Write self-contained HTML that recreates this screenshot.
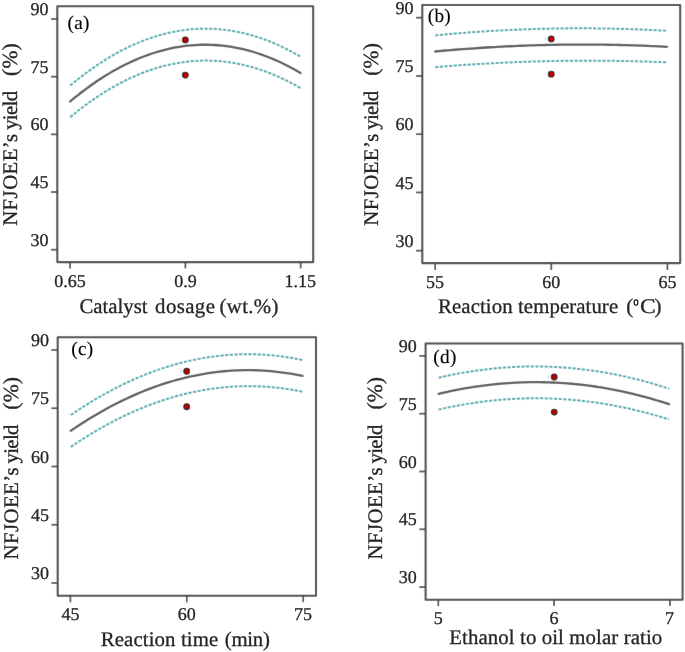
<!DOCTYPE html>
<html><head><meta charset="utf-8"><style>
html,body{margin:0;padding:0;background:#fff;}
svg{display:block;}
text{font-family:"Liberation Serif", serif;text-rendering:geometricPrecision;fill:#262626;stroke:#262626;stroke-width:0.3px;}
text.pl{fill:#000;stroke:#000;stroke-width:0.12px;}
</style></head><body>
<svg width="685" height="652" viewBox="0 0 685 652">
<defs><filter id="bl" x="0" y="0" width="100%" height="100%" filterUnits="userSpaceOnUse"><feConvolveMatrix order="3" kernelMatrix="0.0052 0.0619 0.0052 0.0619 0.7314 0.0619 0.0052 0.0619 0.0052" preserveAlpha="false" edgeMode="duplicate"/></filter><filter id="nf" x="0" y="0" width="100%" height="100%" filterUnits="userSpaceOnUse"><feOffset dx="0" dy="0"/></filter></defs>
<rect width="685" height="652" fill="#fff"/>
<g filter="url(#bl)">
<rect width="685" height="652" fill="#fff"/>
<path d="M57.3 6.2 H313.2 V262.1 H57.3 Z" fill="none" stroke="#484848" stroke-width="2.05" stroke-linejoin="round"/>
<line x1="51.00" y1="19.00" x2="57.3" y2="19.00" stroke="#484848" stroke-width="1.7"/>
<line x1="51.00" y1="76.67" x2="57.3" y2="76.67" stroke="#484848" stroke-width="1.7"/>
<line x1="51.00" y1="134.35" x2="57.3" y2="134.35" stroke="#484848" stroke-width="1.7"/>
<line x1="51.00" y1="192.02" x2="57.3" y2="192.02" stroke="#484848" stroke-width="1.7"/>
<line x1="51.00" y1="249.70" x2="57.3" y2="249.70" stroke="#484848" stroke-width="1.7"/>
<line x1="70.1" y1="262.1" x2="70.1" y2="268.40" stroke="#484848" stroke-width="1.7"/>
<line x1="185.4" y1="262.1" x2="185.4" y2="268.40" stroke="#484848" stroke-width="1.7"/>
<line x1="300.7" y1="262.1" x2="300.7" y2="268.40" stroke="#484848" stroke-width="1.7"/>
<path d="M70.20 85.54 L74.10 82.31 L78.01 79.17 L81.91 76.12 L85.81 73.17 L89.72 70.32 L93.62 67.56 L97.52 64.89 L101.43 62.32 L105.33 59.84 L109.23 57.46 L113.14 55.17 L117.04 52.98 L120.94 50.88 L124.85 48.88 L128.75 46.97 L132.65 45.16 L136.56 43.44 L140.46 41.81 L144.36 40.28 L148.27 38.85 L152.17 37.51 L156.07 36.26 L159.98 35.11 L163.88 34.05 L167.78 33.09 L171.69 32.22 L175.59 31.45 L179.49 30.77 L183.40 30.19 L187.30 29.70 L191.21 29.30 L195.11 29.00 L199.01 28.80 L202.92 28.69 L206.82 28.67 L210.72 28.75 L214.63 28.93 L218.53 29.20 L222.43 29.56 L226.34 30.02 L230.24 30.57 L234.14 31.22 L238.05 31.96 L241.95 32.80 L245.85 33.73 L249.76 34.75 L253.66 35.88 L257.56 37.09 L261.47 38.40 L265.37 39.81 L269.27 41.30 L273.18 42.90 L277.08 44.59 L280.98 46.37 L284.89 48.25 L288.79 50.22 L292.69 52.29 L296.60 54.45 L300.50 56.71" fill="none" stroke="#52abad" stroke-width="2.0" stroke-dasharray="3.2 1.45"/>
<path d="M70.20 117.15 L74.10 113.94 L78.01 110.83 L81.91 107.81 L85.81 104.88 L89.72 102.05 L93.62 99.31 L97.52 96.66 L101.43 94.11 L105.33 91.65 L109.23 89.29 L113.14 87.02 L117.04 84.84 L120.94 82.75 L124.85 80.76 L128.75 78.87 L132.65 77.06 L136.56 75.35 L140.46 73.74 L144.36 72.22 L148.27 70.79 L152.17 69.45 L156.07 68.21 L159.98 67.06 L163.88 66.01 L167.78 65.05 L171.69 64.18 L175.59 63.41 L179.49 62.73 L183.40 62.14 L187.30 61.65 L191.21 61.25 L195.11 60.95 L199.01 60.74 L202.92 60.62 L206.82 60.59 L210.72 60.66 L214.63 60.83 L218.53 61.08 L222.43 61.43 L226.34 61.88 L230.24 62.42 L234.14 63.05 L238.05 63.77 L241.95 64.59 L245.85 65.50 L249.76 66.51 L253.66 67.61 L257.56 68.80 L261.47 70.09 L265.37 71.47 L269.27 72.94 L273.18 74.51 L277.08 76.17 L280.98 77.93 L284.89 79.78 L288.79 81.72 L292.69 83.75 L296.60 85.88 L300.50 88.11" fill="none" stroke="#52abad" stroke-width="2.0" stroke-dasharray="3.2 1.45"/>
<path d="M70.20 101.42 L74.10 98.19 L78.01 95.05 L81.91 92.01 L85.81 89.07 L89.72 86.21 L93.62 83.46 L97.52 80.80 L101.43 78.23 L105.33 75.76 L109.23 73.38 L113.14 71.10 L117.04 68.91 L120.94 66.81 L124.85 64.82 L128.75 62.91 L132.65 61.10 L136.56 59.39 L140.46 57.77 L144.36 56.24 L148.27 54.81 L152.17 53.48 L156.07 52.24 L159.98 51.09 L163.88 50.04 L167.78 49.08 L171.69 48.22 L175.59 47.46 L179.49 46.78 L183.40 46.21 L187.30 45.72 L191.21 45.34 L195.11 45.04 L199.01 44.84 L202.92 44.74 L206.82 44.73 L210.72 44.82 L214.63 45.00 L218.53 45.27 L222.43 45.64 L226.34 46.11 L230.24 46.67 L234.14 47.32 L238.05 48.07 L241.95 48.92 L245.85 49.85 L249.76 50.89 L253.66 52.02 L257.56 53.24 L261.47 54.56 L265.37 55.97 L269.27 57.48 L273.18 59.08 L277.08 60.77 L280.98 62.57 L284.89 64.45 L288.79 66.43 L292.69 68.51 L296.60 70.68 L300.50 72.94" fill="none" stroke="#5c5c5c" stroke-width="2.3" stroke-linecap="round"/>
<circle cx="185.3" cy="39.9" r="2.8" fill="#c80000" stroke="#300000" stroke-width="1.25"/>
<circle cx="185.3" cy="75.1" r="2.8" fill="#c80000" stroke="#300000" stroke-width="1.25"/>
<rect x="179.00" y="38.30" width="0.9" height="3.2" fill="#c4c4c4"/>
<path d="M422.3 5.0 H680.2 V263.1 H422.3 Z" fill="none" stroke="#484848" stroke-width="2.05" stroke-linejoin="round"/>
<line x1="416.00" y1="17.70" x2="422.3" y2="17.70" stroke="#484848" stroke-width="1.7"/>
<line x1="416.00" y1="75.95" x2="422.3" y2="75.95" stroke="#484848" stroke-width="1.7"/>
<line x1="416.00" y1="134.20" x2="422.3" y2="134.20" stroke="#484848" stroke-width="1.7"/>
<line x1="416.00" y1="192.45" x2="422.3" y2="192.45" stroke="#484848" stroke-width="1.7"/>
<line x1="416.00" y1="250.70" x2="422.3" y2="250.70" stroke="#484848" stroke-width="1.7"/>
<line x1="435.2" y1="263.1" x2="435.2" y2="270.10" stroke="#484848" stroke-width="1.7"/>
<line x1="551.3" y1="263.1" x2="551.3" y2="270.10" stroke="#484848" stroke-width="1.7"/>
<line x1="667.4" y1="263.1" x2="667.4" y2="270.10" stroke="#484848" stroke-width="1.7"/>
<path d="M435.20 35.39 L439.13 35.01 L443.06 34.64 L446.99 34.29 L450.92 33.94 L454.85 33.60 L458.78 33.28 L462.71 32.96 L466.64 32.66 L470.57 32.36 L474.51 32.08 L478.44 31.81 L482.37 31.54 L486.30 31.29 L490.23 31.05 L494.16 30.81 L498.09 30.59 L502.02 30.38 L505.95 30.18 L509.88 29.99 L513.81 29.81 L517.74 29.64 L521.67 29.48 L525.60 29.33 L529.53 29.19 L533.46 29.06 L537.39 28.94 L541.32 28.83 L545.25 28.73 L549.18 28.64 L553.12 28.57 L557.05 28.50 L560.98 28.44 L564.91 28.40 L568.84 28.36 L572.77 28.34 L576.70 28.32 L580.63 28.32 L584.56 28.32 L588.49 28.34 L592.42 28.36 L596.35 28.40 L600.28 28.45 L604.21 28.50 L608.14 28.57 L612.07 28.65 L616.00 28.74 L619.93 28.84 L623.86 28.94 L627.79 29.06 L631.73 29.19 L635.66 29.33 L639.59 29.48 L643.52 29.64 L647.45 29.82 L651.38 30.00 L655.31 30.19 L659.24 30.39 L663.17 30.60 L667.10 30.83" fill="none" stroke="#52abad" stroke-width="2.0" stroke-dasharray="3.2 1.45"/>
<path d="M435.20 67.14 L439.13 66.82 L443.06 66.50 L446.99 66.19 L450.92 65.89 L454.85 65.59 L458.78 65.31 L462.71 65.03 L466.64 64.77 L470.57 64.51 L474.51 64.26 L478.44 64.01 L482.37 63.78 L486.30 63.56 L490.23 63.34 L494.16 63.13 L498.09 62.93 L502.02 62.74 L505.95 62.56 L509.88 62.38 L513.81 62.22 L517.74 62.06 L521.67 61.91 L525.60 61.77 L529.53 61.64 L533.46 61.51 L537.39 61.40 L541.32 61.29 L545.25 61.20 L549.18 61.11 L553.12 61.02 L557.05 60.95 L560.98 60.89 L564.91 60.83 L568.84 60.78 L572.77 60.75 L576.70 60.71 L580.63 60.69 L584.56 60.68 L588.49 60.67 L592.42 60.68 L596.35 60.69 L600.28 60.71 L604.21 60.74 L608.14 60.78 L612.07 60.82 L616.00 60.88 L619.93 60.94 L623.86 61.01 L627.79 61.09 L631.73 61.18 L635.66 61.27 L639.59 61.38 L643.52 61.49 L647.45 61.61 L651.38 61.75 L655.31 61.88 L659.24 62.03 L663.17 62.19 L667.10 62.35" fill="none" stroke="#52abad" stroke-width="2.0" stroke-dasharray="3.2 1.45"/>
<path d="M435.20 51.48 L439.13 51.12 L443.06 50.76 L446.99 50.42 L450.92 50.08 L454.85 49.76 L458.78 49.44 L462.71 49.14 L466.64 48.84 L470.57 48.55 L474.51 48.28 L478.44 48.01 L482.37 47.76 L486.30 47.51 L490.23 47.27 L494.16 47.05 L498.09 46.83 L502.02 46.62 L505.95 46.42 L509.88 46.24 L513.81 46.06 L517.74 45.89 L521.67 45.73 L525.60 45.58 L529.53 45.45 L533.46 45.32 L537.39 45.20 L541.32 45.09 L545.25 44.99 L549.18 44.90 L553.12 44.82 L557.05 44.75 L560.98 44.69 L564.91 44.64 L568.84 44.60 L572.77 44.57 L576.70 44.55 L580.63 44.54 L584.56 44.54 L588.49 44.55 L592.42 44.57 L596.35 44.60 L600.28 44.64 L604.21 44.69 L608.14 44.75 L612.07 44.81 L616.00 44.89 L619.93 44.98 L623.86 45.08 L627.79 45.19 L631.73 45.30 L635.66 45.43 L639.59 45.57 L643.52 45.71 L647.45 45.87 L651.38 46.04 L655.31 46.22 L659.24 46.40 L663.17 46.60 L667.10 46.80" fill="none" stroke="#5c5c5c" stroke-width="2.3" stroke-linecap="round"/>
<circle cx="551.2" cy="38.9" r="2.8" fill="#c80000" stroke="#300000" stroke-width="1.25"/>
<circle cx="551.2" cy="74.2" r="2.8" fill="#c80000" stroke="#300000" stroke-width="1.25"/>
<rect x="544.90" y="37.30" width="0.9" height="3.2" fill="#c4c4c4"/>
<path d="M57.7 337.3 H316.0 V595.7 H57.7 Z" fill="none" stroke="#484848" stroke-width="2.05" stroke-linejoin="round"/>
<line x1="51.40" y1="350.00" x2="57.7" y2="350.00" stroke="#484848" stroke-width="1.7"/>
<line x1="51.40" y1="408.25" x2="57.7" y2="408.25" stroke="#484848" stroke-width="1.7"/>
<line x1="51.40" y1="466.50" x2="57.7" y2="466.50" stroke="#484848" stroke-width="1.7"/>
<line x1="51.40" y1="524.75" x2="57.7" y2="524.75" stroke="#484848" stroke-width="1.7"/>
<line x1="51.40" y1="583.00" x2="57.7" y2="583.00" stroke="#484848" stroke-width="1.7"/>
<line x1="70.4" y1="595.7" x2="70.4" y2="602.30" stroke="#484848" stroke-width="1.7"/>
<line x1="186.8" y1="595.7" x2="186.8" y2="602.30" stroke="#484848" stroke-width="1.7"/>
<line x1="303.2" y1="595.7" x2="303.2" y2="602.30" stroke="#484848" stroke-width="1.7"/>
<path d="M70.80 415.04 L74.73 412.37 L78.65 409.77 L82.58 407.22 L86.51 404.73 L90.44 402.30 L94.36 399.93 L98.29 397.62 L102.22 395.37 L106.14 393.18 L110.07 391.05 L114.00 388.98 L117.93 386.97 L121.85 385.02 L125.78 383.13 L129.71 381.30 L133.63 379.53 L137.56 377.82 L141.49 376.17 L145.42 374.57 L149.34 373.04 L153.27 371.57 L157.20 370.16 L161.12 368.81 L165.05 367.52 L168.98 366.28 L172.91 365.11 L176.83 364.00 L180.76 362.95 L184.69 361.95 L188.61 361.02 L192.54 360.15 L196.47 359.34 L200.39 358.58 L204.32 357.89 L208.25 357.26 L212.18 356.68 L216.10 356.17 L220.03 355.71 L223.96 355.32 L227.88 354.99 L231.81 354.71 L235.74 354.50 L239.67 354.34 L243.59 354.25 L247.52 354.21 L251.45 354.24 L255.37 354.32 L259.30 354.47 L263.23 354.67 L267.16 354.94 L271.08 355.26 L275.01 355.65 L278.94 356.09 L282.86 356.59 L286.79 357.16 L290.72 357.78 L294.65 358.46 L298.57 359.21 L302.50 360.01" fill="none" stroke="#52abad" stroke-width="2.0" stroke-dasharray="3.2 1.45"/>
<path d="M70.80 446.91 L74.73 444.25 L78.65 441.66 L82.58 439.13 L86.51 436.65 L90.44 434.24 L94.36 431.88 L98.29 429.59 L102.22 427.35 L106.14 425.17 L110.07 423.05 L114.00 420.99 L117.93 418.99 L121.85 417.05 L125.78 415.16 L129.71 413.34 L133.63 411.58 L137.56 409.87 L141.49 408.22 L145.42 406.64 L149.34 405.11 L153.27 403.64 L157.20 402.23 L161.12 400.88 L165.05 399.59 L168.98 398.36 L172.91 397.18 L176.83 396.07 L180.76 395.01 L184.69 394.02 L188.61 393.08 L192.54 392.21 L196.47 391.39 L200.39 390.63 L204.32 389.93 L208.25 389.29 L212.18 388.71 L216.10 388.18 L220.03 387.72 L223.96 387.32 L227.88 386.97 L231.81 386.69 L235.74 386.46 L239.67 386.29 L243.59 386.18 L247.52 386.13 L251.45 386.14 L255.37 386.21 L259.30 386.34 L263.23 386.53 L267.16 386.78 L271.08 387.08 L275.01 387.45 L278.94 387.87 L282.86 388.35 L286.79 388.90 L290.72 389.50 L294.65 390.16 L298.57 390.88 L302.50 391.66" fill="none" stroke="#52abad" stroke-width="2.0" stroke-dasharray="3.2 1.45"/>
<path d="M70.80 430.76 L74.73 428.10 L78.65 425.50 L82.58 422.96 L86.51 420.48 L90.44 418.06 L94.36 415.70 L98.29 413.40 L102.22 411.16 L106.14 408.98 L110.07 406.86 L114.00 404.79 L117.93 402.79 L121.85 400.85 L125.78 398.96 L129.71 397.14 L133.63 395.38 L137.56 393.67 L141.49 392.03 L145.42 390.44 L149.34 388.92 L153.27 387.45 L157.20 386.04 L161.12 384.70 L165.05 383.41 L168.98 382.18 L172.91 381.01 L176.83 379.91 L180.76 378.86 L184.69 377.87 L188.61 376.94 L192.54 376.07 L196.47 375.26 L200.39 374.51 L204.32 373.82 L208.25 373.19 L212.18 372.62 L216.10 372.10 L220.03 371.65 L223.96 371.26 L227.88 370.93 L231.81 370.65 L235.74 370.44 L239.67 370.29 L243.59 370.19 L247.52 370.16 L251.45 370.18 L255.37 370.27 L259.30 370.41 L263.23 370.62 L267.16 370.88 L271.08 371.20 L275.01 371.59 L278.94 372.03 L282.86 372.53 L286.79 373.10 L290.72 373.72 L294.65 374.40 L298.57 375.14 L302.50 375.94" fill="none" stroke="#5c5c5c" stroke-width="2.3" stroke-linecap="round"/>
<circle cx="186.7" cy="371.2" r="2.8" fill="#c80000" stroke="#300000" stroke-width="1.25"/>
<circle cx="186.7" cy="406.7" r="2.8" fill="#c80000" stroke="#300000" stroke-width="1.25"/>
<rect x="180.40" y="369.60" width="0.9" height="3.2" fill="#c4c4c4"/>
<path d="M425.6 343.4 H682.6 V599.8 H425.6 Z" fill="none" stroke="#484848" stroke-width="2.05" stroke-linejoin="round"/>
<line x1="419.30" y1="355.90" x2="425.6" y2="355.90" stroke="#484848" stroke-width="1.7"/>
<line x1="419.30" y1="413.70" x2="425.6" y2="413.70" stroke="#484848" stroke-width="1.7"/>
<line x1="419.30" y1="471.50" x2="425.6" y2="471.50" stroke="#484848" stroke-width="1.7"/>
<line x1="419.30" y1="529.30" x2="425.6" y2="529.30" stroke="#484848" stroke-width="1.7"/>
<line x1="419.30" y1="587.10" x2="425.6" y2="587.10" stroke="#484848" stroke-width="1.7"/>
<line x1="438.3" y1="599.8" x2="438.3" y2="606.10" stroke="#484848" stroke-width="1.7"/>
<line x1="554.1" y1="599.8" x2="554.1" y2="606.10" stroke="#484848" stroke-width="1.7"/>
<line x1="669.9" y1="599.8" x2="669.9" y2="606.10" stroke="#484848" stroke-width="1.7"/>
<path d="M438.60 377.71 L442.51 376.82 L446.41 375.96 L450.32 375.13 L454.22 374.35 L458.13 373.60 L462.03 372.89 L465.94 372.21 L469.84 371.58 L473.75 370.98 L477.65 370.42 L481.56 369.89 L485.46 369.41 L489.37 368.96 L493.27 368.54 L497.18 368.17 L501.08 367.83 L504.99 367.53 L508.89 367.27 L512.80 367.05 L516.70 366.86 L520.61 366.71 L524.51 366.59 L528.42 366.52 L532.32 366.48 L536.23 366.48 L540.13 366.52 L544.04 366.59 L547.94 366.70 L551.85 366.85 L555.75 367.04 L559.66 367.26 L563.56 367.52 L567.47 367.82 L571.37 368.15 L575.28 368.53 L579.18 368.94 L583.09 369.39 L586.99 369.87 L590.90 370.39 L594.80 370.95 L598.71 371.55 L602.61 372.18 L606.52 372.86 L610.42 373.57 L614.33 374.31 L618.23 375.10 L622.14 375.92 L626.04 376.78 L629.95 377.67 L633.85 378.61 L637.76 379.58 L641.66 380.59 L645.57 381.63 L649.47 382.71 L653.38 383.84 L657.28 384.99 L661.19 386.19 L665.09 387.42 L669.00 388.69" fill="none" stroke="#52abad" stroke-width="2.0" stroke-dasharray="3.2 1.45"/>
<path d="M438.60 409.60 L442.51 408.71 L446.41 407.85 L450.32 407.04 L454.22 406.26 L458.13 405.51 L462.03 404.80 L465.94 404.13 L469.84 403.50 L473.75 402.90 L477.65 402.34 L481.56 401.81 L485.46 401.32 L489.37 400.87 L493.27 400.46 L497.18 400.08 L501.08 399.73 L504.99 399.43 L508.89 399.16 L512.80 398.92 L516.70 398.72 L520.61 398.56 L524.51 398.44 L528.42 398.35 L532.32 398.30 L536.23 398.28 L540.13 398.30 L544.04 398.36 L547.94 398.45 L551.85 398.58 L555.75 398.75 L559.66 398.95 L563.56 399.19 L567.47 399.47 L571.37 399.78 L575.28 400.13 L579.18 400.51 L583.09 400.93 L586.99 401.39 L590.90 401.89 L594.80 402.42 L598.71 402.98 L602.61 403.59 L606.52 404.23 L610.42 404.90 L614.33 405.62 L618.23 406.36 L622.14 407.15 L626.04 407.97 L629.95 408.83 L633.85 409.73 L637.76 410.66 L641.66 411.62 L645.57 412.63 L649.47 413.67 L653.38 414.74 L657.28 415.86 L661.19 417.01 L665.09 418.19 L669.00 419.42" fill="none" stroke="#52abad" stroke-width="2.0" stroke-dasharray="3.2 1.45"/>
<path d="M438.60 393.83 L442.51 392.91 L446.41 392.03 L450.32 391.18 L454.22 390.38 L458.13 389.61 L462.03 388.88 L465.94 388.18 L469.84 387.52 L473.75 386.91 L477.65 386.33 L481.56 385.78 L485.46 385.28 L489.37 384.81 L493.27 384.38 L497.18 383.99 L501.08 383.64 L504.99 383.32 L508.89 383.04 L512.80 382.80 L516.70 382.60 L520.61 382.43 L524.51 382.31 L528.42 382.22 L532.32 382.17 L536.23 382.15 L540.13 382.18 L544.04 382.24 L547.94 382.34 L551.85 382.48 L555.75 382.65 L559.66 382.87 L563.56 383.12 L567.47 383.41 L571.37 383.73 L575.28 384.10 L579.18 384.50 L583.09 384.94 L586.99 385.42 L590.90 385.94 L594.80 386.49 L598.71 387.08 L602.61 387.71 L606.52 388.38 L610.42 389.08 L614.33 389.83 L618.23 390.61 L622.14 391.42 L626.04 392.28 L629.95 393.17 L633.85 394.11 L637.76 395.08 L641.66 396.08 L645.57 397.13 L649.47 398.21 L653.38 399.33 L657.28 400.49 L661.19 401.69 L665.09 402.92 L669.00 404.20" fill="none" stroke="#5c5c5c" stroke-width="2.3" stroke-linecap="round"/>
<circle cx="554.2" cy="377.0" r="2.8" fill="#c80000" stroke="#300000" stroke-width="1.25"/>
<circle cx="554.2" cy="412.1" r="2.8" fill="#c80000" stroke="#300000" stroke-width="1.25"/>
<rect x="547.90" y="375.40" width="0.9" height="3.2" fill="#c4c4c4"/>
</g>
<g filter="url(#nf)">
<text x="48.47" y="15.10" text-anchor="end" font-size="18.0">90</text>
<text x="48.52" y="72.77" text-anchor="end" font-size="18.0">75</text>
<text x="48.47" y="130.45" text-anchor="end" font-size="18.0">60</text>
<text x="48.52" y="188.12" text-anchor="end" font-size="18.0">45</text>
<text x="48.47" y="245.80" text-anchor="end" font-size="18.0">30</text>
<text x="54.37" y="287.00" font-size="18.0">0.65</text>
<text x="174.17" y="287.00" font-size="18.0">0.9</text>
<text x="284.52" y="287.00" font-size="18.0">1.15</text>
<text x="67.43" y="28.81" font-size="19.3" textLength="22.09" lengthAdjust="spacing" class="pl">(a)</text>
<text transform="translate(17.30 225.82) rotate(-90)" font-size="20.8" textLength="91.97" lengthAdjust="spacing">NFJOEE’s</text>
<text transform="translate(17.30 129.86) rotate(-90)" font-size="20.8" textLength="38.91" lengthAdjust="spacing">yield</text>
<text transform="translate(17.30 75.97) rotate(-90)" font-size="21.6" textLength="32.72" lengthAdjust="spacing">(%)</text>
<text x="79.47" y="313.10" font-size="20.8" textLength="68.04" lengthAdjust="spacing">Catalyst</text>
<text x="155.07" y="313.10" font-size="20.8" textLength="59.84" lengthAdjust="spacing">dosage</text>
<text x="219.56" y="313.10" font-size="20.8" textLength="58.85" lengthAdjust="spacing">(wt.%)</text>
<text x="413.48" y="13.80" text-anchor="end" font-size="18.0">90</text>
<text x="413.52" y="72.05" text-anchor="end" font-size="18.0">75</text>
<text x="413.48" y="130.30" text-anchor="end" font-size="18.0">60</text>
<text x="413.52" y="188.55" text-anchor="end" font-size="18.0">45</text>
<text x="413.48" y="246.80" text-anchor="end" font-size="18.0">30</text>
<text x="426.04" y="288.00" font-size="18.0">55</text>
<text x="542.25" y="288.00" font-size="18.0">60</text>
<text x="658.38" y="288.00" font-size="18.0">65</text>
<text x="427.83" y="21.51" font-size="19.3" textLength="22.91" lengthAdjust="spacing" class="pl">(b)</text>
<text transform="translate(377.90 225.72) rotate(-90)" font-size="20.8" textLength="91.97" lengthAdjust="spacing">NFJOEE’s</text>
<text transform="translate(377.90 129.76) rotate(-90)" font-size="20.8" textLength="38.91" lengthAdjust="spacing">yield</text>
<text transform="translate(377.90 75.87) rotate(-90)" font-size="21.6" textLength="32.82" lengthAdjust="spacing">(%)</text>
<text x="438.08" y="312.80" font-size="20.8" textLength="180.04" lengthAdjust="spacing">Reaction temperature</text>
<text x="626.26" y="312.80" font-size="20.8" textLength="6.92" lengthAdjust="spacing">(</text>
<ellipse cx="636.0" cy="302.6" rx="1.85" ry="2.7" fill="none" stroke="#222" stroke-width="1.25"/>
<text transform="translate(640.06 312.8) scale(1.13 1)" font-size="20.8">C</text>
<text x="654.52" y="312.80" font-size="20.8" textLength="7.17" lengthAdjust="spacing">)</text>
<text x="48.88" y="346.10" text-anchor="end" font-size="18.0">90</text>
<text x="48.92" y="404.35" text-anchor="end" font-size="18.0">75</text>
<text x="48.88" y="462.60" text-anchor="end" font-size="18.0">60</text>
<text x="48.92" y="520.85" text-anchor="end" font-size="18.0">45</text>
<text x="48.88" y="579.10" text-anchor="end" font-size="18.0">30</text>
<text x="61.58" y="620.20" font-size="18.0">45</text>
<text x="177.75" y="620.20" font-size="18.0">60</text>
<text x="293.97" y="620.20" font-size="18.0">75</text>
<text x="71.23" y="354.91" font-size="19.3" textLength="21.99" lengthAdjust="spacing" class="pl">(c)</text>
<text transform="translate(18.20 559.42) rotate(-90)" font-size="20.8" textLength="91.97" lengthAdjust="spacing">NFJOEE’s</text>
<text transform="translate(18.20 463.46) rotate(-90)" font-size="20.8" textLength="38.91" lengthAdjust="spacing">yield</text>
<text transform="translate(18.20 409.77) rotate(-90)" font-size="21.6" textLength="32.82" lengthAdjust="spacing">(%)</text>
<text x="100.78" y="646.10" font-size="20.8" textLength="117.44" lengthAdjust="spacing">Reaction time</text>
<text x="224.76" y="646.10" font-size="20.8" textLength="45.06" lengthAdjust="spacing">(min)</text>
<text x="416.78" y="352.00" text-anchor="end" font-size="18.0">90</text>
<text x="416.82" y="409.80" text-anchor="end" font-size="18.0">75</text>
<text x="416.78" y="467.60" text-anchor="end" font-size="18.0">60</text>
<text x="416.82" y="525.40" text-anchor="end" font-size="18.0">45</text>
<text x="416.78" y="583.20" text-anchor="end" font-size="18.0">30</text>
<text x="433.64" y="623.90" font-size="18.0">5</text>
<text x="549.49" y="623.90" font-size="18.0">6</text>
<text x="665.08" y="623.90" font-size="18.0">7</text>
<text x="433.23" y="362.81" font-size="19.3" textLength="23.11" lengthAdjust="spacing" class="pl">(d)</text>
<text transform="translate(381.70 559.42) rotate(-90)" font-size="20.8" textLength="91.97" lengthAdjust="spacing">NFJOEE’s</text>
<text transform="translate(381.70 463.46) rotate(-90)" font-size="20.8" textLength="38.91" lengthAdjust="spacing">yield</text>
<text transform="translate(381.70 409.57) rotate(-90)" font-size="21.6" textLength="32.62" lengthAdjust="spacing">(%)</text>
<text x="449.28" y="643.80" font-size="20.8" textLength="212.89" lengthAdjust="spacing">Ethanol to oil molar ratio</text>
</g>
</svg>
</body></html>
